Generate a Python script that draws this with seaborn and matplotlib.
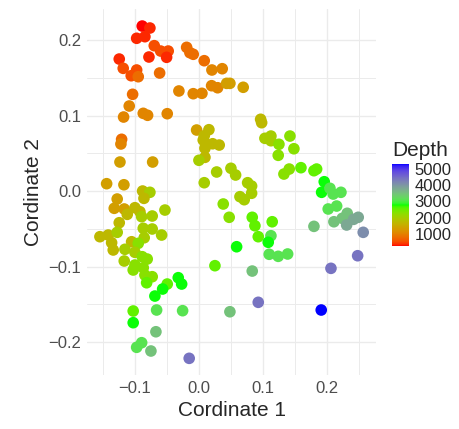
import numpy as np
import pandas as pd
import matplotlib
matplotlib.use("Agg")
import matplotlib.pyplot as plt
import seaborn as sns
from matplotlib.colors import LinearSegmentedColormap, Normalize, to_rgb
from matplotlib.cm import ScalarMappable

# ordination scores and sample depth
coord1 = [-0.0886, -0.0766, -0.0973, -0.0844, -0.0698, -0.0598, -0.0480, -0.0505, -0.0781, -0.1245,
          -0.1183, -0.0973, -0.1058, -0.0948, -0.0614, -0.0192, -0.0141, -0.0089, 0.0083, 0.0203,
          0.0364, 0.0198, 0.0292, 0.0433, 0.0484, -0.0313, -0.0089, 0.0047, -0.1036, -0.1089,
          0.0692, -0.1177, -0.0870, -0.0802, -0.0495, -0.1208, -0.1219, -0.1234, -0.0723, -0.1442,
          -0.1172, -0.0036, 0.0156, 0.0083, 0.0067, 0.0214, 0.0317, 0.0094, 0.0094, 0.0000,
          0.0277, 0.0500, 0.0573, 0.0083, 0.0964, 0.0980, 0.1031, 0.1125, 0.1125, 0.1250,
          0.1422, 0.1484, 0.1239, 0.1594, 0.1411, 0.1328, 0.1797, 0.1839, 0.1958, 0.0761,
          0.0823, 0.1917, 0.2047, 0.2098, 0.2219, 0.2020, 0.2152, 0.2109, 0.2239, 0.2317,
          0.2308, 0.2417, 0.2489, 0.2567, 0.2480, 0.2063, 0.1797, 0.0641, 0.0708, 0.0823,
          0.0833, 0.0875, 0.1145, 0.0927, 0.1125, 0.1083, 0.0589, 0.1098, 0.1239, 0.1386,
          0.0833, 0.0380, 0.0473, 0.0250, -0.0880, -0.0766, -0.0859, -0.1277, -0.1323, -0.1167,
          -0.1120, -0.1000, -0.0922, -0.0895, -0.0531, -0.0730, -0.1245, -0.1547, -0.1417, -0.1277,
          -0.1364, -0.1339, -0.0870, -0.0730, -0.0855, -0.0583, -0.1052, -0.0948, -0.1156, -0.1000,
          -0.0886, -0.0808, -0.1167, -0.1000, -0.1027, -0.0870, -0.0844, -0.0730, -0.0817, -0.0323,
          -0.0270, -0.0495, -0.0567, -0.0688, -0.1027, -0.0661, -0.0255, 0.0484, -0.1027, -0.0672,
          -0.0895, -0.0973, -0.0750, -0.0152, 0.0927, 0.1911]
coord2 = [0.2185, 0.2159, 0.2023, 0.2044, 0.1925, 0.1854, 0.1854, 0.1771, 0.1775, 0.1748,
          0.1625, 0.1603, 0.1527, 0.1514, 0.1563, 0.1903, 0.1832, 0.1811, 0.1726, 0.1603,
          0.1620, 0.1395, 0.1368, 0.1426, 0.1426, 0.1325, 0.1289, 0.1294, 0.1281, 0.1126,
          0.1374, 0.0980, 0.1029, 0.1003, 0.1024, 0.0685, 0.0623, 0.0384, 0.0384, 0.0097,
          0.0083, 0.0808, 0.0812, 0.0732, 0.0675, 0.0626, 0.0609, 0.0566, 0.0446, 0.0407,
          0.0252, 0.0301, 0.0212, 0.0110, 0.0950, 0.0905, 0.0698, 0.0728, 0.0666, 0.0619,
          0.0728, 0.0560, 0.0473, 0.0309, 0.0291, 0.0225, 0.0269, 0.0291, 0.0123, 0.0110,
          0.0066, -0.0017, 0.0036, -0.0040, -0.0017, -0.0238, -0.0199, -0.0407, -0.0362, -0.0295,
          -0.0450, -0.0375, -0.0348, -0.0547, -0.0857, -0.1024, -0.0468, -0.0075, -0.0115, -0.0030,
          -0.0348, -0.0460, -0.0407, -0.0605, -0.0592, -0.0679, -0.0738, -0.0838, -0.0865, -0.0834,
          -0.1060, -0.0172, -0.0348, -0.0989, 0.0000, -0.0017, -0.0097, -0.0106, -0.0229, -0.0238,
          -0.0309, -0.0221, -0.0274, -0.0340, -0.0252, -0.0331, -0.0420, -0.0605, -0.0583, -0.0547,
          -0.0685, -0.0781, -0.0494, -0.0503, -0.0619, -0.0583, -0.0672, -0.0693, -0.0772, -0.0812,
          -0.0870, -0.0901, -0.0927, -0.0980, -0.1046, -0.1016, -0.1113, -0.1135, -0.1215, -0.1148,
          -0.1232, -0.1232, -0.1298, -0.1391, -0.1589, -0.1576, -0.1585, -0.1599, -0.1744, -0.1864,
          -0.2009, -0.2070, -0.2119, -0.2216, -0.1474, -0.1576]
depth = [260, 350, 350, 350, 550, 550, 550, 350, 350, 350,
         550, 550, 550, 800, 800, 800, 800, 800, 800, 1050,
         1050, 1050, 1050, 1350, 1350, 1050, 1050, 1050, 800, 1050,
         1350, 1050, 1050, 1050, 1050, 800, 1050, 1350, 1350, 1350,
         1350, 1350, 1700, 1700, 1700, 1700, 1700, 1700, 1700, 2000,
         2000, 2000, 2000, 2000, 1700, 1700, 2000, 2000, 2000, 2300,
         2300, 2300, 2300, 2550, 2300, 2300, 2550, 2550, 2780, 2000,
         2000, 2780, 3100, 3100, 3100, 3100, 3100, 3500, 3500, 3500,
         3800, 3800, 3800, 4100, 4400, 4400, 3500, 2000, 2000, 2000,
         2550, 2550, 2550, 2550, 3100, 2780, 2780, 3100, 3100, 3100,
         3500, 2300, 2300, 2550, 1700, 2000, 1700, 1350, 1350, 1350,
         1700, 1700, 1700, 2000, 2000, 2000, 1700, 1700, 1700, 2000,
         1700, 1700, 2000, 2000, 2000, 2000, 1700, 2300, 2000, 2000,
         2300, 2300, 2000, 2300, 2300, 2300, 2300, 2300, 2550, 2780,
         2780, 2550, 2780, 2780, 2550, 3100, 3100, 3500, 2780, 3500,
         3100, 3100, 3500, 4400, 4400, 5300]

depth_ticks = [1000, 2000, 3000, 4000, 5000]
x_ticks = [-0.1, 0.0, 0.1, 0.2]
x_tick_labels = ["\u22120.1", "0.0", "0.1", "0.2"]
x_minor = [-0.15, -0.05, 0.05, 0.15, 0.25]
y_ticks = [-0.2, -0.1, 0.0, 0.1, 0.2]
y_tick_labels = ["\u22120.2", "\u22120.1", "0.0", "0.1", "0.2"]
y_minor = [-0.15, -0.05, 0.05, 0.15]

# red -> green -> blue gradient, interpolated in CIELAB like ggplot's gradientn
WHITE = np.array([0.95047, 1.0, 1.08883])
M = np.array([[0.4124564, 0.3575761, 0.1804375],
              [0.2126729, 0.7151522, 0.0721750],
              [0.0193339, 0.1191920, 0.9503041]])


def to_lab(rgb):
    c = np.asarray(rgb, float)
    lin = np.where(c <= 0.04045, c / 12.92, ((c + 0.055) / 1.055) ** 2.4)
    xyz = lin @ M.T / WHITE
    f = np.where(xyz > 0.008856, np.cbrt(xyz), 7.787 * xyz + 16 / 116)
    return np.stack([116 * f[..., 1] - 16,
                     500 * (f[..., 0] - f[..., 1]),
                     200 * (f[..., 1] - f[..., 2])], -1)


def from_lab(lab):
    fy = (lab[..., 0] + 16) / 116
    fx = fy + lab[..., 1] / 500
    fz = fy - lab[..., 2] / 200
    f = np.stack([fx, fy, fz], -1)
    xyz = np.where(f ** 3 > 0.008856, f ** 3, (f - 16 / 116) / 7.787) * WHITE
    lin = np.clip(xyz @ np.linalg.inv(M).T, 0, 1)
    c = np.where(lin <= 0.0031308, 12.92 * lin, 1.055 * lin ** (1 / 2.4) - 0.055)
    return np.clip(c, 0, 1)


anchors = to_lab([to_rgb(c) for c in ["#FF0000", "#00FF00", "#0000FF"]])
t = np.linspace(0, 1, 256)
lab = np.stack([np.interp(t, [0, 0.5, 1], anchors[:, i]) for i in range(3)], -1)
cmap = LinearSegmentedColormap.from_list("depth", from_lab(lab))

df = pd.DataFrame({"coord1": coord1, "coord2": coord2, "Depth": depth})
norm = Normalize(min(depth), max(depth))

sns.set_theme(style="white")
plt.rcParams["font.family"] = ["Liberation Sans", "DejaVu Sans"]

fig = plt.figure(figsize=(4.59, 4.29), dpi=100)
ax = fig.add_axes([0.189, 0.126, 0.631, 0.852])
sns.scatterplot(data=df, x="coord1", y="coord2", hue="Depth", palette=cmap,
                hue_norm=norm, s=70, linewidth=0, legend=False, ax=ax, zorder=3)

ax.set_xticks(x_ticks)
ax.set_xticklabels(x_tick_labels)
ax.set_yticks(y_ticks)
ax.set_yticklabels(y_tick_labels)
ax.set_xticks(x_minor, minor=True)
ax.set_yticks(y_minor, minor=True)
ax.grid(which="major", color="#EBEBEB", linewidth=1.0)
ax.grid(which="minor", color="#EBEBEB", linewidth=0.7)
ax.set_axisbelow(True)
for s in ax.spines.values():
    s.set_visible(False)
ax.tick_params(which="both", length=0, labelsize=12, labelcolor="#4D4D4D", pad=4)
ax.set_xlabel("Cordinate 1", fontsize=15, labelpad=4)
ax.set_ylabel("Cordinate 2", fontsize=15, labelpad=4)

cax = fig.add_axes([0.854, 0.4266, 0.037, 0.191])
cb = fig.colorbar(ScalarMappable(norm=norm, cmap=cmap), cax=cax, ticks=depth_ticks)
cb.outline.set_visible(False)
cb.minorticks_off()
cax.tick_params(which="major", direction="in", length=3.5, width=1, color="white",
                left=True, right=True, labelsize=12, pad=4)
cax.set_title("Depth", loc="left", fontsize=15, pad=6)

fig.savefig("out.png", dpi=100)
